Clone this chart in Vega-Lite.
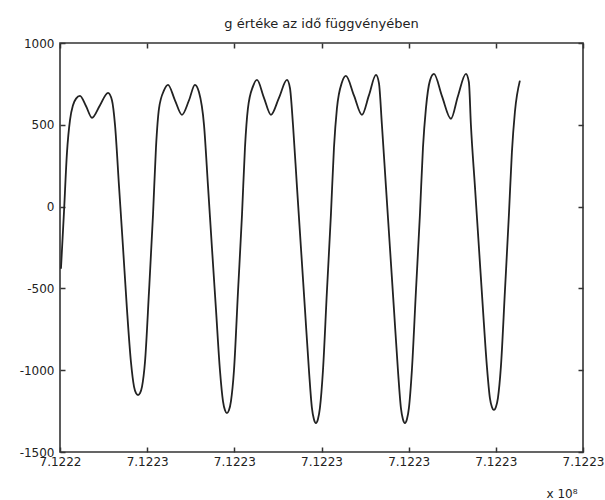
{
  "$schema": "https://vega.github.io/schema/vega-lite/v6.json",
  "autosize": "none",
  "width": 523,
  "height": 409,
  "padding": {"left": 60, "top": 43, "right": 22, "bottom": 48},
  "background": "white",
  "config": {
    "font": "DejaVu Sans",
    "view": {"stroke": "#333", "strokeWidth": 1.6},
    "axis": {"grid": false, "domain": false, "ticks": true, "tickColor": "#333", "tickWidth": 1.5, "labelColor": "#222", "labelFont": "DejaVu Sans", "labelFontSize": 12}
  },
  "title": {"text": "g értéke az idő függvényében", "fontSize": 13, "font": "DejaVu Sans", "fontWeight": "normal", "color": "#222", "offset": 6},
  "data": {"values": [
    {"t": 712224411, "g": -380},
    {"t": 712224446, "g": -30},
    {"t": 712224480, "g": 330},
    {"t": 712224515, "g": 530},
    {"t": 712224549, "g": 620},
    {"t": 712224584, "g": 660},
    {"t": 712224629, "g": 677},
    {"t": 712224698, "g": 615},
    {"t": 712224767, "g": 543},
    {"t": 712224859, "g": 620},
    {"t": 712224951, "g": 695},
    {"t": 712224996, "g": 650},
    {"t": 712225031, "g": 500},
    {"t": 712225077, "g": 125},
    {"t": 712225123, "g": -250},
    {"t": 712225168, "g": -625},
    {"t": 712225214, "g": -950},
    {"t": 712225249, "g": -1100},
    {"t": 712225272, "g": -1140},
    {"t": 712225295, "g": -1152},
    {"t": 712225318, "g": -1140},
    {"t": 712225341, "g": -1100},
    {"t": 712225375, "g": -950},
    {"t": 712225421, "g": -520},
    {"t": 712225467, "g": -50},
    {"t": 712225501, "g": 360},
    {"t": 712225536, "g": 600},
    {"t": 712225593, "g": 710},
    {"t": 712225639, "g": 744},
    {"t": 712225719, "g": 650},
    {"t": 712225799, "g": 561},
    {"t": 712225880, "g": 650},
    {"t": 712225948, "g": 744},
    {"t": 712225994, "g": 700},
    {"t": 712226052, "g": 500},
    {"t": 712226098, "g": 125},
    {"t": 712226143, "g": -250},
    {"t": 712226189, "g": -625},
    {"t": 712226235, "g": -1000},
    {"t": 712226270, "g": -1190},
    {"t": 712226293, "g": -1245},
    {"t": 712226315, "g": -1262},
    {"t": 712226338, "g": -1245},
    {"t": 712226361, "g": -1190},
    {"t": 712226396, "g": -1000},
    {"t": 712226442, "g": -520},
    {"t": 712226488, "g": -50},
    {"t": 712226522, "g": 360},
    {"t": 712226556, "g": 600},
    {"t": 712226614, "g": 735},
    {"t": 712226660, "g": 774},
    {"t": 712226740, "g": 665},
    {"t": 712226820, "g": 561},
    {"t": 712226912, "g": 665},
    {"t": 712227004, "g": 774},
    {"t": 712227038, "g": 725},
    {"t": 712227073, "g": 500},
    {"t": 712227118, "g": 125},
    {"t": 712227164, "g": -250},
    {"t": 712227210, "g": -625},
    {"t": 712227256, "g": -1000},
    {"t": 712227290, "g": -1230},
    {"t": 712227313, "g": -1300},
    {"t": 712227336, "g": -1323},
    {"t": 712227359, "g": -1300},
    {"t": 712227382, "g": -1230},
    {"t": 712227417, "g": -1000},
    {"t": 712227462, "g": -520},
    {"t": 712227508, "g": -50},
    {"t": 712227543, "g": 360},
    {"t": 712227577, "g": 600},
    {"t": 712227635, "g": 760},
    {"t": 712227680, "g": 799},
    {"t": 712227772, "g": 680},
    {"t": 712227864, "g": 561},
    {"t": 712227944, "g": 680},
    {"t": 712228025, "g": 805},
    {"t": 712228059, "g": 755},
    {"t": 712228093, "g": 500},
    {"t": 712228139, "g": 125},
    {"t": 712228185, "g": -250},
    {"t": 712228231, "g": -625},
    {"t": 712228277, "g": -1000},
    {"t": 712228311, "g": -1230},
    {"t": 712228334, "g": -1300},
    {"t": 712228357, "g": -1323},
    {"t": 712228380, "g": -1300},
    {"t": 712228403, "g": -1230},
    {"t": 712228437, "g": -1000},
    {"t": 712228483, "g": -520},
    {"t": 712228529, "g": -50},
    {"t": 712228564, "g": 360},
    {"t": 712228598, "g": 600},
    {"t": 712228644, "g": 770},
    {"t": 712228690, "g": 811},
    {"t": 712228782, "g": 675},
    {"t": 712228885, "g": 537},
    {"t": 712228965, "g": 675},
    {"t": 712229057, "g": 811},
    {"t": 712229091, "g": 760},
    {"t": 712229114, "g": 500},
    {"t": 712229160, "g": 125},
    {"t": 712229206, "g": -250},
    {"t": 712229252, "g": -625},
    {"t": 712229298, "g": -980},
    {"t": 712229332, "g": -1170},
    {"t": 712229355, "g": -1225},
    {"t": 712229378, "g": -1243},
    {"t": 712229401, "g": -1225},
    {"t": 712229424, "g": -1170},
    {"t": 712229458, "g": -980},
    {"t": 712229504, "g": -520},
    {"t": 712229550, "g": -50},
    {"t": 712229584, "g": 330},
    {"t": 712229619, "g": 580},
    {"t": 712229676, "g": 770}
  ]},
  "layer": [
    {
      "mark": {"type": "line", "interpolate": "monotone", "stroke": "#222", "strokeWidth": 1.8},
      "encoding": {
        "x": {"field": "t", "type": "quantitative",
              "scale": {"domain": [712224400, 712230400], "nice": false, "zero": false},
              "axis": {"orient": "bottom", "values": [712224400, 712225400, 712226400, 712227400, 712228400, 712229400, 712230400],
                       "tickSize": -5, "labelExpr": "format(datum.value / 1e8, '.4f')", "labelPadding": 9, "labelFlush": false,
                       "title": "x 10⁸", "titleFont": "DejaVu Sans", "titleFontSize": 12, "titleFontWeight": "normal", "titleColor": "#222",
                       "titleX": 517, "titleY": 45, "titleAlign": "right", "titleBaseline": "alphabetic"}},
        "y": {"field": "g", "type": "quantitative",
              "scale": {"domain": [-1500, 1000], "nice": false, "zero": false},
              "axis": {"orient": "left", "values": [-1500, -1000, -500, 0, 500, 1000], "tickSize": -5, "labelExpr": "'' + datum.value", "labelPadding": 11, "labelFlush": false, "title": null}}
      }
    },
    {
      "mark": {"type": "line", "opacity": 0},
      "encoding": {
        "x": {"field": "t", "type": "quantitative",
              "axis": {"orient": "top", "values": [712224400, 712225400, 712226400, 712227400, 712228400, 712229400, 712230400], "tickSize": -5, "labels": false, "title": null}},
        "y": {"field": "g", "type": "quantitative",
              "axis": {"orient": "right", "values": [-1500, -1000, -500, 0, 500, 1000], "tickSize": -5, "labels": false, "title": null}}
      }
    }
  ],
  "resolve": {"axis": {"x": "independent", "y": "independent"}}
}
